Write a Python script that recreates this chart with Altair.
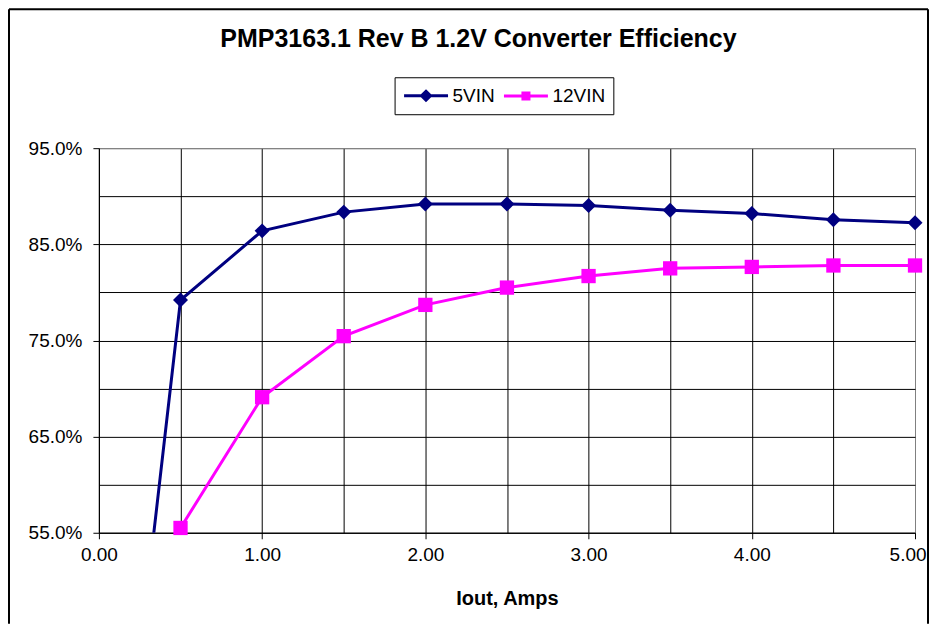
import altair as alt
import pandas as pd

# ---- data ----
iout = [0.1, 0.5, 1.0, 1.5, 2.0, 2.5, 3.0, 3.5, 4.0, 4.5, 5.0]
eff_5vin = [20.0, 79.2, 86.4, 88.35, 89.2, 89.2, 89.05, 88.55, 88.2, 87.55, 87.25]
eff_12vin = [8.0, 55.5, 69.1, 75.45, 78.7, 80.5, 81.7, 82.5, 82.65, 82.8, 82.8]
series_names = ["5VIN", "12VIN"]
series_colors = ["#000080", "#FF00FF"]
series_shapes = ["diamond", "square"]
series_sizes = [225, 205]
x_grid = [0.0, 0.5, 1.0, 1.5, 2.0, 2.5, 3.0, 3.5, 4.0, 4.5, 5.0]
y_grid = [55, 60, 65, 70, 75, 80, 85, 90, 95]
title_text = "PMP3163.1 Rev B 1.2V Converter Efficiency"
x_title = "Iout, Amps"

df = pd.DataFrame({
    "iout": iout * 2,
    "eff": eff_5vin + eff_12vin,
    "series": [series_names[0]] * len(iout) + [series_names[1]] * len(iout),
})

FONT = "Liberation Sans"
W, H = 817, 385

x_enc = alt.X(
    "iout:Q",
    scale=alt.Scale(domain=[0, 5], nice=False, zero=False),
    axis=alt.Axis(
        values=x_grid, title=x_title,
        labelExpr="datum.value % 1 == 0 ? format(datum.value, '.2f') : ''",
        labelFont=FONT, labelFontSize=19, labelColor="black", labelPadding=7,
        labelFlush=False,
        labelAlign=alt.ExprRef(expr="datum.value >= 5 ? 'right' : 'center'"),
        labelOffset=alt.ExprRef(expr="datum.value >= 5 ? 11 : 0"),
        titleFont=FONT, titleFontSize=20, titleFontWeight="bold", titleColor="black",
        titlePadding=24,
        domainColor="black", domainWidth=1,
        tickSize=6,
        tickColor={"condition": {"test": "datum.value % 1 != 0", "value": "transparent"}, "value": "black"},
        gridColor={"condition": {"test": "datum.value >= 5", "value": "#808080"}, "value": "black"},
        gridWidth=1, gridOpacity=1,
    ),
)
y_enc = alt.Y(
    "eff:Q",
    scale=alt.Scale(domain=[55, 95], nice=False, zero=False),
    axis=alt.Axis(
        values=y_grid, title=None,
        labelExpr="datum.value % 10 == 5 ? format(datum.value, '.1f') + '%' : ''",
        labelFont=FONT, labelFontSize=19, labelColor="black", labelPadding=11,
        labelFlush=False,
        domainColor="black", domainWidth=1,
        tickSize=6,
        tickColor={"condition": {"test": "datum.value % 10 != 5", "value": "transparent"}, "value": "black"},
        gridColor={"condition": {"test": "datum.value >= 95", "value": "#808080"}, "value": "black"},
        gridWidth=1, gridOpacity=1,
    ),
)

sym_5 = "M-1,0L3.89,0M1.44,-0.5L1.94,0L1.44,0.5L0.94,0Z"
sym_12 = "M-1,0L3.89,0M1.11,-0.34L1.78,-0.34L1.78,0.34L1.11,0.34Z"
sym_color_expr = f"datum.value === '5VIN' ? '{series_colors[0]}' : '{series_colors[1]}'"

legend = alt.Legend(
    title=None, orient="none", legendX=296, legendY=-71, direction="horizontal",
    strokeColor="black", fillColor="white", padding=8, cornerRadius=0,
    symbolSize=324, symbolStrokeWidth=3,
    symbolType=alt.ExprRef(expr=f"datum.value === '5VIN' ? '{sym_5}' : '{sym_12}'"),
    symbolFillColor=alt.ExprRef(expr=sym_color_expr),
    symbolStrokeColor=alt.ExprRef(expr=sym_color_expr),
    symbolOpacity=1,
    labelFont=FONT, labelFontSize=19, labelColor="black", labelOffset=29,
    columnPadding=2,
)

base = alt.Chart(df)

lines = base.mark_line(strokeWidth=3, clip=True).encode(
    x=x_enc, y=y_enc,
    color=alt.Color("series:N", scale=alt.Scale(domain=series_names, range=series_colors), legend=legend),
)

points = base.transform_filter("datum.eff >= 55").mark_point(filled=True, opacity=1, strokeWidth=0).encode(
    x=x_enc, y=y_enc,
    fill=alt.Fill("series:N", scale=alt.Scale(domain=series_names, range=series_colors), legend=None),
    shape=alt.Shape("series:N", scale=alt.Scale(domain=series_names, range=series_shapes), legend=None),
    size=alt.Size("series:N", scale=alt.Scale(domain=series_names, range=series_sizes), legend=None),
)

frame_data = alt.Data(values=[{}])
frame_left = alt.Chart(frame_data).mark_rule(color="black", strokeWidth=2).encode(
    x=alt.value(-90), y=alt.value(-139), y2=alt.value(476))
frame_top = alt.Chart(frame_data).mark_rule(color="black", strokeWidth=2).encode(
    x=alt.value(-90), x2=alt.value(830), y=alt.value(-139))
frame_right = alt.Chart(frame_data).mark_rule(color="black", strokeWidth=2).encode(
    x=alt.value(830), y=alt.value(-139), y2=alt.value(476))

chart = alt.layer(lines, points, frame_left, frame_top, frame_right).resolve_scale(
    fill="independent", shape="independent", size="independent"
).properties(
    width=W, height=H,
    padding=0,
    background="white",
    title=alt.TitleParams(
        text=title_text, font=FONT, fontSize=25, fontWeight="bold", color="black",
        anchor="middle", frame="bounds", offset=0, dy=44, dx=10,
    ),
).configure_view(stroke="#808080", strokeWidth=1)

chart.save("out.html", embed_options={"renderer": "svg", "actions": False})
